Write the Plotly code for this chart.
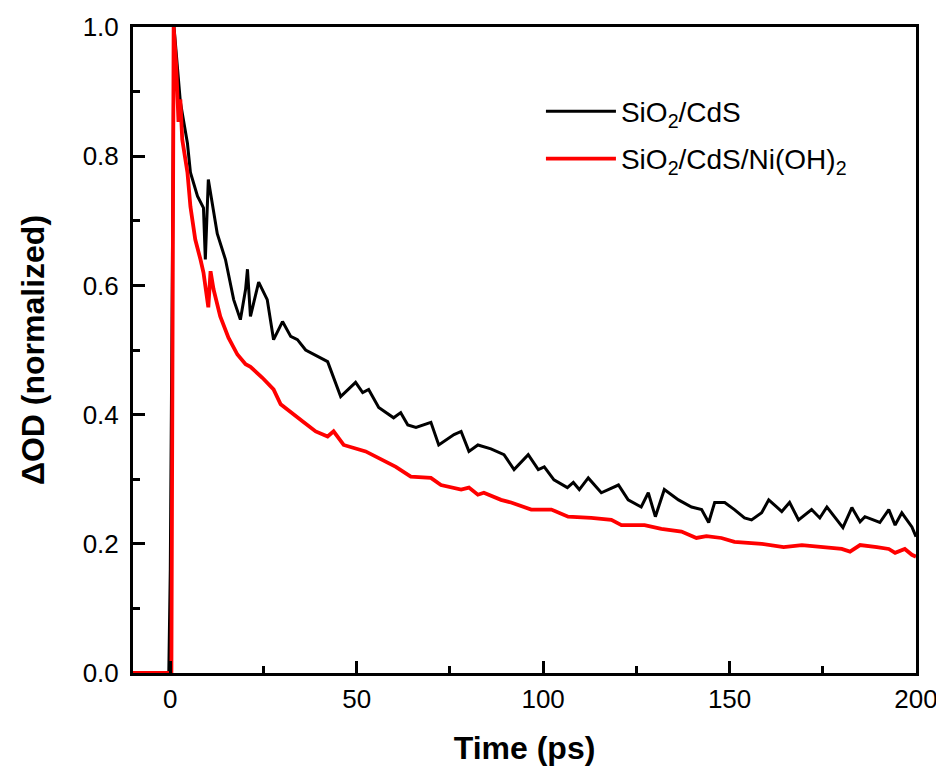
import plotly.graph_objects as go

# SiO2/CdS (black)
t_cds = [-10, -1, -0.4, 0, 0.5, 1.0, 2.7, 4.6, 5.4, 7.3, 8.9, 9.4, 10.2, 12.6, 14.8, 17.0, 18.8,
         20.2, 20.7, 21.5, 23.7, 26.0, 27.7, 30.1, 32.3, 34.1, 36.3, 40.9, 42.2, 45.7, 49.7, 51.6,
         53.2, 55.9, 59.9, 61.8, 63.7, 65.9, 69.9, 72.0, 76.1, 78.0, 80.1, 82.5, 86.0, 89.5, 92.2,
         96.0, 98.7, 100.3, 102.9, 106.5, 108.1, 109.7, 112.1, 115.6, 120.2, 122.8, 126.3, 128.2,
         130.1, 132.5, 136.3, 139.8, 142.5, 144.4, 146.0, 148.7, 151.3, 154.0, 155.9, 158.6, 160.5,
         164.0, 166.1, 168.5, 172.0, 174.2, 176.1, 180.4, 182.8, 185.0, 186.3, 190.3, 192.7, 194.4,
         196.2, 198.9, 200.0]
od_cds = [0, 0, 0, 0.16, 0.6, 1.0, 0.884, 0.82, 0.775, 0.738, 0.72, 0.64, 0.764, 0.68, 0.64, 0.578, 0.547,
          0.594, 0.625, 0.552, 0.605, 0.578, 0.516, 0.544, 0.521, 0.516, 0.5, 0.485, 0.482, 0.428, 0.45, 0.434,
          0.439, 0.411, 0.395, 0.403, 0.384, 0.38, 0.388, 0.353, 0.369, 0.374, 0.343, 0.353, 0.347, 0.338, 0.315,
          0.338, 0.315, 0.319, 0.299, 0.287, 0.295, 0.284, 0.302, 0.279, 0.291, 0.268, 0.257, 0.279,
          0.242, 0.284, 0.268, 0.257, 0.253, 0.233, 0.264, 0.264, 0.253, 0.24, 0.237, 0.248, 0.268,
          0.25, 0.264, 0.237, 0.253, 0.24, 0.257, 0.225, 0.256, 0.234, 0.242, 0.233, 0.253, 0.229,
          0.248, 0.226, 0.211]

# SiO2/CdS/Ni(OH)2 (red)
t_ni = [-10, -1, 0.3, 0.9, 1.6, 2.2, 2.7, 3.2, 4.6, 5.4, 6.7, 8.1, 8.9, 10.2, 10.8, 11.6, 13.4, 15.6,
        18.0, 20.2, 21.5, 24.7, 27.7, 29.6, 32.3, 35.8, 39.0, 42.2, 43.8, 46.5, 52.4, 56.5, 60.5,
        64.5, 69.9, 72.6, 78.0, 80.1, 82.5, 84.1, 88.7, 91.4, 96.8, 102.2, 106.7, 112.9, 118.3,
        121.0, 127.2, 131.7, 137.1, 141.1, 143.8, 147.8, 151.3, 158.6, 164.5, 169.4, 175.5,
        180.1, 182.3, 185.0, 189.5, 192.7, 194.4, 197.0, 198.9, 200.0]
od_ni = [0, 0, 0, 1.0, 0.94, 0.853, 0.888, 0.826, 0.775, 0.722, 0.671, 0.64, 0.62, 0.566, 0.622, 0.594, 0.552, 0.519,
         0.493, 0.478, 0.474, 0.457, 0.439, 0.416, 0.403, 0.388, 0.374, 0.366, 0.374, 0.353, 0.343, 0.33, 0.319,
         0.304, 0.302, 0.291, 0.284, 0.287, 0.276, 0.279, 0.268, 0.264, 0.253, 0.253, 0.242, 0.240, 0.237,
         0.229, 0.229, 0.223, 0.219, 0.209, 0.212, 0.209, 0.203, 0.2, 0.195, 0.198, 0.194,
         0.192, 0.188, 0.198, 0.195, 0.192, 0.186, 0.192, 0.183, 0.18]

names = ["SiO<sub>2</sub>/CdS", "SiO<sub>2</sub>/CdS/Ni(OH)<sub>2</sub>"]
x_ticks = [0, 50, 100, 150, 200]
y_ticks = [0.0, 0.2, 0.4, 0.6, 0.8, 1.0]

font_family = "Liberation Sans"

fig = go.Figure()
fig.add_trace(go.Scatter(x=t_cds, y=od_cds, mode="lines", name=names[0], legendgroup="a",
                         line=dict(color="black", width=3)))
fig.add_trace(go.Scatter(x=t_ni, y=od_ni, mode="lines", name=names[1], legendgroup="b",
                         line=dict(color="#ff0000", width=3.8)))

axis_common = dict(showline=True, linecolor="black", linewidth=3, mirror=True,
                   ticks="inside", ticklen=12, tickwidth=3, tickcolor="black",
                   showgrid=False, zeroline=False, layer="above traces", automargin=False,
                   ticklabeloverflow="allow",
                   tickfont=dict(family=font_family, size=26, color="black"))

fig.update_xaxes(range=[-10, 200], tickvals=x_ticks, ticklabelstandoff=1,
                 minor=dict(ticks="inside", ticklen=7, tickwidth=3, tickcolor="black", dtick=25, tick0=25),
                 title=dict(text="<b>Time (ps)</b>", font=dict(family=font_family, size=32, color="black"),
                            standoff=36),
                 **axis_common)
fig.update_yaxes(range=[0, 1.0], tickvals=y_ticks, tickformat=".1f", ticklabelstandoff=6,
                 minor=dict(ticks="inside", ticklen=7, tickwidth=3, tickcolor="black", dtick=0.1, tick0=0.1),
                 title=dict(text="<b>ΔOD (normalized)</b>", font=dict(family=font_family, size=32, color="black"),
                            standoff=29),
                 **axis_common)

fig.update_layout(
    width=936, height=758,
    margin=dict(l=125, r=28, t=19, b=93),
    plot_bgcolor="white", paper_bgcolor="white",
    legend=dict(x=0.521, y=0.908, xanchor="left", yanchor="top", bgcolor="rgba(0,0,0,0)",
                font=dict(family=font_family, size=28, color="black"),
                traceorder="grouped", tracegroupgap=8, itemwidth=70),
    showlegend=True,
)

fig.write_html("out.html")
